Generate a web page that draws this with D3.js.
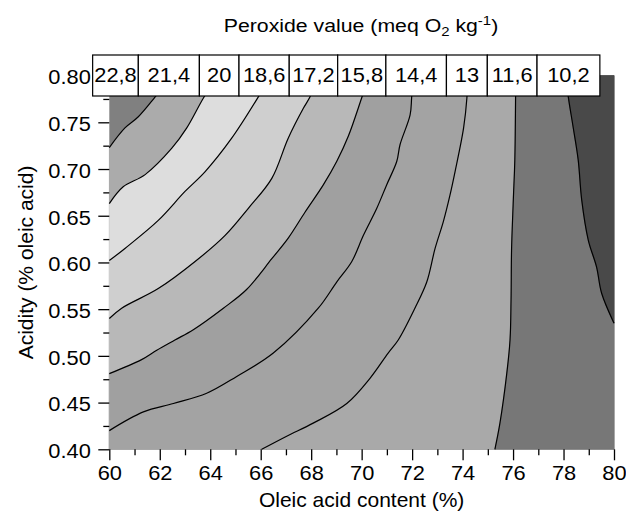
<!DOCTYPE html>
<html>
<head>
<meta charset="utf-8">
<script src="https://cdn.jsdelivr.net/npm/d3@7"></script>
<style>
  body { margin: 0; background: #fff; }
  text { font-family: "Liberation Sans", Arial, Helvetica, sans-serif; fill: #000; }
</style>
</head>
<body>
<svg id="chart"></svg>
<script>
// contour levels shown in the boxes along the top
const levels = ["22,8", "21,4", "20", "18,6", "17,2", "15,8", "14,4", "13", "11,6", "10,2"];
// box edges along the top (oleic acid %)
const boxEdges = [59.34, 61.15, 63.57, 65.14, 67.13, 69.05, 70.96, 73.36, 74.98, 76.95, 79.44];

// contour lines, [oleic %, acidity], ordered so the lower side is on the right
const line214 = [[60, 0.723], [60.62, 0.744], [61.15, 0.756], [61.81, 0.777], [62.48, 0.80]];
const line200 = [[60, 0.663], [60.55, 0.681], [61.42, 0.694], [62.47, 0.722], [63.07, 0.744], [63.73, 0.776], [64.30, 0.80]];
const line186 = [[60, 0.602], [60.62, 0.615], [61.94, 0.645], [63.00, 0.676], [63.79, 0.697], [64.85, 0.733], [65.90, 0.777], [66.40, 0.80]];
const line172 = [[60, 0.540], [60.49, 0.551], [61.94, 0.572], [63.40, 0.601], [64.59, 0.629], [65.51, 0.658], [66.44, 0.690], [67.09, 0.733], [67.69, 0.765], [67.95, 0.777], [68.30, 0.80]];
const line158 = [[60, 0.481], [61.28, 0.496], [61.88, 0.506], [62.60, 0.517], [63.33, 0.528], [64.52, 0.551], [65.44, 0.571], [66.44, 0.604], [67.09, 0.626], [67.76, 0.654], [68.48, 0.683], [69.01, 0.708], [69.47, 0.735], [70.00, 0.776], [70.30, 0.80]];
const line144 = [[60, 0.420], [61.35, 0.440], [62.54, 0.449], [63.86, 0.460], [65.05, 0.478], [66.50, 0.503], [68.28, 0.551], [69.01, 0.579], [69.61, 0.601], [70.07, 0.629], [70.60, 0.658], [70.99, 0.683], [71.39, 0.708], [71.52, 0.726], [71.92, 0.758], [71.98, 0.776], [72.03, 0.80]];
const line130 = [[66.04, 0.40], [67.03, 0.414], [68.08, 0.428], [69.41, 0.449], [70.33, 0.476], [71.05, 0.503], [71.45, 0.517], [72.11, 0.551], [72.58, 0.579], [72.91, 0.615], [73.24, 0.644], [73.50, 0.672], [73.70, 0.697], [74.04, 0.744], [74.17, 0.776], [74.20, 0.80]];
const line116 = [[75.28, 0.40], [75.48, 0.428], [75.75, 0.481], [75.88, 0.517], [75.92, 0.560], [75.94, 0.613], [76.01, 0.667], [76.07, 0.710], [76.10, 0.777], [76.11, 0.80]];
const line102 = [[80, 0.535], [79.51, 0.567], [79.31, 0.595], [78.98, 0.624], [78.72, 0.667], [78.58, 0.710], [78.38, 0.745], [78.19, 0.777], [78.09, 0.80]];

const contourLines = [line214, line200, line186, line172, line158, line144, line130, line116, line102];
// grey of the corner region, then of the region on the low side of each line
const cornerGrey = "#808080";
const bandGreys = ["#ababab", "#dddddd", "#cfcfcf", "#b8b8b8", "#a0a0a0", "#a3a3a3", "#a9a9a9", "#777777", "#494949"];

const xMajor = d3.range(60, 80.1, 2);
const xMinor = d3.range(61, 80, 2);
const yMajor = [0.40, 0.45, 0.50, 0.55, 0.60, 0.65, 0.70, 0.75, 0.80];
const yMinor = [0.425, 0.475, 0.525, 0.575, 0.625, 0.675, 0.725, 0.775];

const W = 626, H = 511;
const svg = d3.select('#chart').attr('width', W).attr('height', H);

const x = d3.scaleLinear().domain([60, 80]).range([109.3, 614]);
const y = d3.scaleLinear().domain([0.40, 0.80]).range([449.3, 75.6]);

// position of a boundary point going clockwise round the plot, starting top-left
function perim(p) {
    const e = 1e-6;
    if (p[1] >= 0.80 - e) return (p[0] - 60) / 20;
    if (p[0] >= 80 - e) return 1 + (0.80 - p[1]) / 0.4;
    if (p[1] <= 0.40 + e) return 2 + (80 - p[0]) / 20;
    return 3 + (p[1] - 0.40) / 0.4;
}
const corners = [[0, [60, 0.80]], [1, [80, 0.80]], [2, [80, 0.40]], [3, [60, 0.40]], [4, [60, 0.80]]];

// plot corners to walk through, clockwise, from the end of a line back to its start
function closingCorners(pts) {
    let t0 = perim(pts[pts.length - 1]), t1 = perim(pts[0]);
    if (t1 <= t0) t1 += 4;
    return [...corners, ...corners.map(c => [c[0] + 4, c[1]])]
        .filter(c => c[0] > t0 && c[0] < t1)
        .map(c => c[1]);
}

const iso = d3.line().x(d => x(d[0])).y(d => y(d[1])).curve(d3.curveCatmullRom.alpha(0.5));

const plot = svg.append('g');
plot.append('rect')
    .attr('x', x(60)).attr('y', y(0.80))
    .attr('width', x(80) - x(60)).attr('height', y(0.40) - y(0.80))
    .attr('fill', cornerGrey);

plot.selectAll('path.band').data(contourLines).enter().append('path')
    .attr('class', 'band')
    .attr('d', d => iso(d) + closingCorners(d).map(c => `L${x(c[0])},${y(c[1])}`).join('') + 'Z')
    .attr('fill', (d, i) => bandGreys[i])
    .attr('stroke', (d, i) => bandGreys[i])
    .attr('stroke-width', 0.5);

plot.selectAll('path.iso').data(contourLines).enter().append('path')
    .attr('class', 'iso')
    .attr('d', iso)
    .attr('fill', 'none')
    .attr('stroke', '#000')
    .attr('stroke-width', 1.2);

// axes: ticks only, no spine
const sx = 1.12;
const gx = svg.append('g').attr('transform', `translate(0, ${y(0.40)})`)
    .call(d3.axisBottom(x).tickValues(xMajor).tickSize(11).tickPadding(5.7).tickFormat(d3.format('d')));
gx.selectAll('text').attr('font-size', 19.5).attr('transform', `scale(${sx},1)`);
svg.append('g').attr('transform', `translate(0, ${y(0.40)})`)
    .call(d3.axisBottom(x).tickValues(xMinor).tickSize(6).tickFormat(''));

const gy = svg.append('g').attr('transform', `translate(${x(60)}, 0)`)
    .call(d3.axisLeft(y).tickValues(yMajor).tickSize(11).tickPadding(7.5).tickFormat(d3.format('.2f')));
gy.selectAll('text').attr('font-size', 19.5).attr('dy', '0.43em')
    .attr('x', -18.5 / sx).attr('transform', `scale(${sx},1)`);
svg.append('g').attr('transform', `translate(${x(60)}, 0)`)
    .call(d3.axisLeft(y).tickValues(yMinor).tickSize(6).tickFormat(''));

svg.selectAll('.domain').remove();
svg.selectAll('.tick line').attr('stroke', '#000').attr('stroke-width', 1.3);

// level boxes along the top
const boxTop = 55, boxBottom = 96;
const boxes = svg.append('g');
levels.forEach((lab, i) => {
    const x0 = x(boxEdges[i]), x1 = x(boxEdges[i + 1]);
    boxes.append('rect')
        .attr('x', x0).attr('y', boxTop)
        .attr('width', x1 - x0).attr('height', boxBottom - boxTop)
        .attr('fill', '#fff').attr('stroke', '#000').attr('stroke-width', 1.2);
    boxes.append('g').attr('transform', `translate(${(x0 + x1) / 2}, 82.3) scale(${sx},1)`)
        .append('text').attr('text-anchor', 'middle').attr('font-size', 19.5).text(lab);
});

// titles
const title = svg.append('g').attr('transform', `translate(361, 32.3) scale(1.15,1)`)
    .append('text').attr('text-anchor', 'middle').attr('font-size', 18.5);
title.append('tspan').text('Peroxide value (meq O');
title.append('tspan').attr('font-size', 13).attr('dy', 4).text('2');
title.append('tspan').attr('dy', -4).text(' kg');
title.append('tspan').attr('font-size', 13).attr('dy', -7).text('-1');
title.append('tspan').attr('dy', 7).text(')');

svg.append('text')
    .attr('x', (x(60) + x(80)) / 2).attr('y', 507)
    .attr('text-anchor', 'middle').attr('font-size', 21)
    .text('Oleic acid content (%)');

svg.append('text')
    .attr('transform', `translate(32.5, ${(y(0.40) + y(0.80)) / 2}) rotate(-90)`)
    .attr('text-anchor', 'middle').attr('font-size', 21)
    .text('Acidity (% oleic acid)');
</script>
</body>
</html>
